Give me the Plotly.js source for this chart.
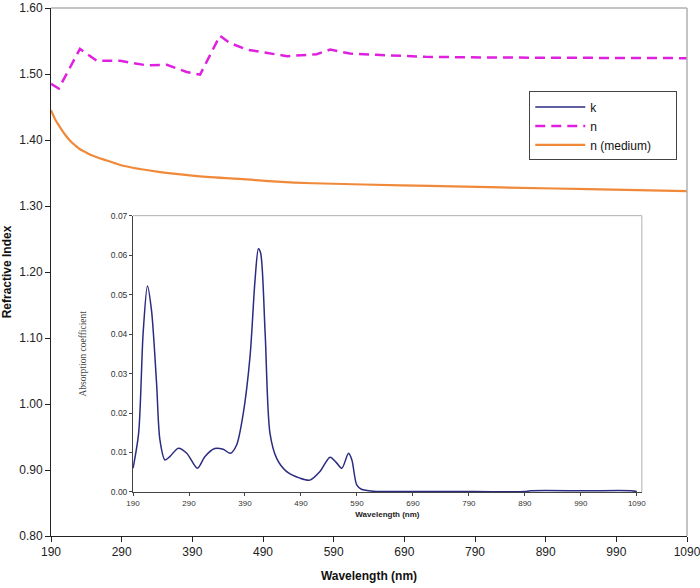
<!DOCTYPE html>
<html>
<head>
<meta charset="utf-8">
<script src="https://cdn.plot.ly/plotly-3.0.1.min.js"></script>
<style>html,body{margin:0;padding:0;background:#fff;}#chart{width:700px;height:588px;}</style>
</head>
<body>
<div id="chart"></div>
<script>
// Refractive index n (particle)
const nWave = [190, 201, 231, 255, 288, 326, 354, 382, 401, 429, 443, 467, 524, 566, 585, 613, 650, 684, 720, 800, 900, 1000, 1090];
const nVals = [1.485, 1.478, 1.538, 1.520, 1.520, 1.513, 1.514, 1.503, 1.499, 1.558, 1.547, 1.537, 1.527, 1.530, 1.537, 1.531, 1.529, 1.528, 1.526, 1.525, 1.525, 1.524, 1.524];

// Refractive index of medium
const mWave = [190, 196, 203, 210, 217, 224, 231, 238, 245, 257, 269, 280, 292, 316, 340, 363, 410, 457, 510, 561, 632, 726, 811, 950, 1090];
const mVals = [1.445, 1.431, 1.419, 1.408, 1.399, 1.392, 1.386, 1.382, 1.378, 1.373, 1.369, 1.365, 1.361, 1.356, 1.352, 1.349, 1.344, 1.341, 1.337, 1.3345, 1.3326, 1.3305, 1.3285, 1.3255, 1.3225];

// Absorption coefficient k (inset)
const kWave = [190, 200, 208, 215.7, 223, 232, 238, 247, 256, 271, 286, 305, 318.6, 336, 351, 364, 375, 387, 399, 408, 414, 418, 426, 434.6, 446.6, 464, 488, 506, 524, 542, 554, 563, 575, 581, 589.6, 598, 619, 680, 800, 890, 900, 1000, 1080, 1090];
const kVals = [0.006, 0.0149, 0.0402, 0.0522, 0.046, 0.0276, 0.0132, 0.0081, 0.009, 0.0111, 0.0098, 0.006, 0.009, 0.011, 0.0108, 0.0098, 0.0119, 0.020, 0.0343, 0.0538, 0.0616, 0.0605, 0.0402, 0.0149, 0.0085, 0.0052, 0.0035, 0.003, 0.0052, 0.0088, 0.0073, 0.006, 0.0098, 0.0081, 0.0018, 0.0007, 0.0002, 0.0001, 0.0001, 0.0001, 0.0003, 0.0003, 0.0003, 0.0001];

const mainTicks = [190, 290, 390, 490, 590, 690, 790, 890, 990, 1090];
const yTicks = [0.8, 0.9, 1.0, 1.1, 1.2, 1.3, 1.4, 1.5, 1.6];
const insetYTicks = [0, 0.01, 0.02, 0.03, 0.04, 0.05, 0.06, 0.07];

const sans = 'Liberation Sans, Arial, sans-serif';
const serif = 'Liberation Serif, Times New Roman, serif';
const pad = '\u00a0\u00a0\u00a0\u00a0\u00a0\u00a0';

const data = [
  {x: kWave, y: kVals, xaxis: 'x2', yaxis: 'y2', name: 'k', mode: 'lines',
   line: {color: '#2b2b80', width: 1.5, shape: 'spline', smoothing: 0.8}},
  {x: nWave, y: nVals, name: 'n', mode: 'lines',
   line: {color: '#e020e0', width: 2.5, dash: '10px,6px'}},
  {x: mWave, y: mVals, name: 'n (medium)' + pad, mode: 'lines',
   line: {color: '#f08a3a', width: 2.2, shape: 'spline'}}
];

const layout = {
  width: 700, height: 588,
  margin: {l: 51, r: 13, t: 8, b: 52},
  paper_bgcolor: '#fff', plot_bgcolor: '#fff',
  font: {family: sans, color: '#222', size: 12},
  showlegend: true,
  legend: {x: 0.752, y: 0.842, xanchor: 'left', yanchor: 'top',
    bgcolor: '#fff', bordercolor: '#444', borderwidth: 1, itemwidth: 50,
    font: {family: sans, size: 12, color: '#111'}, tracegroupgap: 0},
  xaxis: {domain: [0, 1], range: [190, 1090], tickvals: mainTicks, ticktext: mainTicks.map(String),
    showgrid: false, zeroline: false, showline: true, linecolor: '#222', linewidth: 1,
    ticks: 'outside', ticklen: 5, tickcolor: '#222', ticklabeloverflow: 'allow',
    tickfont: {family: sans, size: 12, color: '#222'},
    title: {text: '<b>Wavelength (nm)</b>', font: {family: sans, size: 12, color: '#111'}, standoff: 13}},
  yaxis: {domain: [0, 1], range: [0.8, 1.6], tickvals: yTicks, tickformat: '.2f',
    showgrid: false, zeroline: false, showline: true, linecolor: '#222', linewidth: 1,
    ticks: 'outside', ticklen: 5, tickcolor: '#222', ticklabeloverflow: 'allow',
    tickfont: {family: sans, size: 12, color: '#222'},
    title: {text: '<b>Refractive Index</b>', font: {family: sans, size: 12, color: '#111'}, standoff: 6}},
  xaxis2: {domain: [0.129, 0.929], anchor: 'y2', range: [190, 1099], tickvals: mainTicks, ticktext: mainTicks.map(String),
    showgrid: false, zeroline: false, showline: true, linecolor: '#444', linewidth: 1,
    ticks: 'outside', ticklen: 3, tickcolor: '#444',
    tickfont: {family: sans, size: 8, color: '#333'},
    title: {text: '<b>Wavelength (nm)</b>', font: {family: sans, size: 8, color: '#222'}, standoff: 4}},
  yaxis2: {domain: [0.0834, 0.6067], anchor: 'x2', range: [0, 0.07], tickvals: insetYTicks, tickformat: '.2f',
    showgrid: false, zeroline: false, showline: true, linecolor: '#444', linewidth: 1,
    ticks: 'outside', ticklen: 3, tickcolor: '#444',
    tickfont: {family: sans, size: 8.5, color: '#333'},
    title: {text: 'Absorption coefficient', font: {family: serif, size: 9.5, color: '#444'}, standoff: 22}},
  shapes: [
    {type: 'line', xref: 'paper', yref: 'paper', x0: 0, x1: 1, y0: 1, y1: 1, line: {color: '#b0b0b0', width: 1.5}},
    {type: 'line', xref: 'paper', yref: 'paper', x0: 1, x1: 1, y0: 0, y1: 1, line: {color: '#b0b0b0', width: 1.5}},
    {type: 'line', xref: 'paper', yref: 'paper', x0: 0.129, x1: 0.929, y0: 0.6067, y1: 0.6067, line: {color: '#b0b0b0', width: 1}},
    {type: 'line', xref: 'paper', yref: 'paper', x0: 0.929, x1: 0.929, y0: 0.0834, y1: 0.6067, line: {color: '#b0b0b0', width: 1}}
  ]
};

Plotly.newPlot('chart', data, layout, {displayModeBar: false, staticPlot: true});
</script>
</body>
</html>
